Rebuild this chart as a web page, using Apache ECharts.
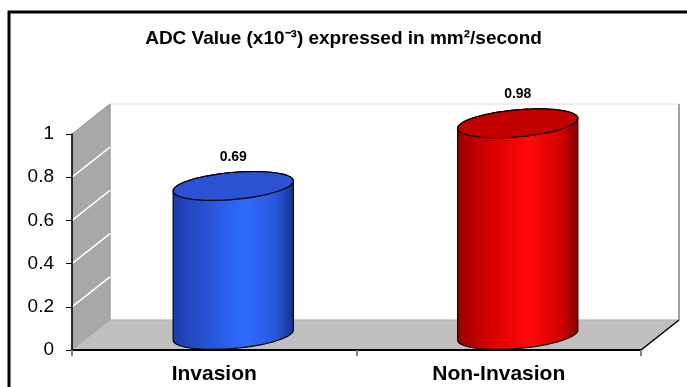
<!DOCTYPE html>
<html>
<head>
<meta charset="utf-8">
<script src="https://cdn.jsdelivr.net/npm/echarts@6/dist/echarts.min.js"></script>
<style>
    html, body { margin: 0; padding: 0; background: #fff; }
    #chart { width: 687px; height: 387px; }
</style>
</head>
<body>
<div id="chart"></div>
<script>
const categories = ['Invasion', 'Non-Invasion'];
const adcValues = [0.69, 0.98];
const yTicks = [0, 0.2, 0.4, 0.6, 0.8, 1];

// 3d look: depth offset of the back wall
const DX = 38;
const DY = -30;

const palette = [
    { stops: ['#1b3caa', '#2854d8', '#2f6cff', '#2757da', '#16308f'], top: '#2a52d2' },
    { stops: ['#9a0000', '#dc0000', '#ff0a0a', '#d40000', '#860000'], top: '#c20000' }
];

const chart = echarts.init(document.getElementById('chart'));

function renderWalls(params, api) {
    const cs = params.coordSys;
    const x0 = cs.x, x1 = cs.x + cs.width;
    const yBase = api.coord([0, 0])[1];
    const yTop = api.coord([0, yTicks[yTicks.length - 1]])[1];
    const children = [];
    // back wall
    children.push({
        type: 'rect',
        shape: { x: x0 + DX, y: yTop + DY, width: cs.width, height: yBase - yTop },
        style: { fill: '#fff', stroke: '#dcdcdc', lineWidth: 1 }
    });
    children.push({
        type: 'line',
        shape: { x1: x1 + DX, y1: yTop + DY, x2: x1 + DX, y2: yBase + DY },
        style: { stroke: '#a0a0a0', lineWidth: 2 }
    });
    // side wall
    children.push({
        type: 'polygon',
        shape: { points: [[x0, yBase], [x0, yTop], [x0 + DX, yTop + DY], [x0 + DX, yBase + DY]] },
        style: { fill: '#a8a8a8', stroke: '#909090', lineWidth: 1 }
    });
    yTicks.slice(1, -1).forEach(v => {
        const y = api.coord([0, v])[1];
        children.push({
            type: 'line',
            shape: { x1: x0, y1: y, x2: x0 + DX, y2: y + DY },
            style: { stroke: '#fff', lineWidth: 1.5 }
        });
    });
    // floor
    children.push({
        type: 'polygon',
        shape: { points: [[x0, yBase], [x0 + DX, yBase + DY], [x1 + DX, yBase + DY], [x1, yBase]] },
        style: { fill: '#c0c0c0', stroke: '#b0b0b0', lineWidth: 1 }
    });
    children.push({
        type: 'line',
        shape: { x1: x1, y1: yBase, x2: x1 + DX, y2: yBase + DY },
        style: { stroke: '#000', lineWidth: 1.5 }
    });
    return { type: 'group', children: children };
}

function renderCylinder(params, api) {
    const i = api.value(0);
    const v = api.value(1);
    const base = api.coord([i, 0]);
    const top = api.coord([i, v]);
    const cx = base[0] + DX / 2;
    const yb = base[1] + DY / 2;
    const yt = top[1] + DY / 2;
    const rx = api.size([1, 0])[0] * 0.212;
    const ry = 13.5;
    const tilt = 5 * Math.PI / 180;
    const pt = (cy, t) => [
        cx + rx * Math.cos(t) * Math.cos(tilt) + ry * Math.sin(t) * Math.sin(tilt),
        cy - rx * Math.cos(t) * Math.sin(tilt) + ry * Math.sin(t) * Math.cos(tilt)
    ];
    const body = [];
    for (let k = 0; k <= 40; k++) body.push(pt(yb, Math.PI * k / 40));
    for (let k = 40; k <= 80; k++) body.push(pt(yt, Math.PI * k / 40));
    const cap = [];
    for (let k = 0; k < 80; k++) cap.push(pt(yt, 2 * Math.PI * k / 80));

    const col = palette[i % palette.length];
    const grad = new echarts.graphic.LinearGradient(0, 0, 1, 0, [
        { offset: 0, color: col.stops[0] },
        { offset: 0.3, color: col.stops[1] },
        { offset: 0.6, color: col.stops[2] },
        { offset: 0.85, color: col.stops[3] },
        { offset: 1, color: col.stops[4] }
    ]);
    return {
        type: 'group',
        children: [
            { type: 'polygon', shape: { points: body }, style: { fill: grad, stroke: '#000', lineWidth: 1.2 } },
            { type: 'polygon', shape: { points: cap }, style: { fill: col.top, stroke: '#000', lineWidth: 1.2 } },
            {
                type: 'text',
                x: cx, y: yt - 29,
                style: {
                    text: v.toFixed(2), fill: '#000', align: 'center', verticalAlign: 'middle',
                    font: 'bold 14px "Liberation Sans", Arial, sans-serif'
                }
            }
        ]
    };
}

const option = {
    animation: false,
    backgroundColor: '#fff',
    title: {
        text: 'ADC Value (x10\u207B\u00B3) expressed in mm\u00B2/second',
        left: 'center',
        top: 24,
        textStyle: { fontFamily: 'Liberation Sans', fontWeight: 'bold', fontSize: 19, color: '#000' }
    },
    graphic: [{
        type: 'rect',
        shape: { x: 9, y: 12, width: 720, height: 420 },
        style: { fill: 'none', stroke: '#000', lineWidth: 3 },
        silent: true
    }],
    grid: { left: 72, right: 46, top: 134, bottom: 37 },
    xAxis: {
        type: 'category',
        data: categories,
        axisLine: { lineStyle: { color: '#000', width: 2 } },
        axisTick: { show: true, length: 6, lineStyle: { color: '#808080', width: 2 } },
        axisLabel: {
            margin: 14, color: '#000', fontSize: 21, fontWeight: 'bold',
            fontFamily: 'Liberation Sans'
        },
        z: 3
    },
    yAxis: {
        type: 'value',
        min: yTicks[0],
        max: yTicks[yTicks.length - 1],
        interval: 0.2,
        axisLine: { show: true, lineStyle: { color: '#000', width: 1.5 } },
        axisTick: { show: true, length: 6, lineStyle: { color: '#000' } },
        axisLabel: { margin: 18, color: '#000', fontSize: 19, fontFamily: 'Liberation Sans' },
        splitLine: { show: false },
        z: 3
    },
    series: [
        {
            type: 'custom',
            z: 1,
            silent: true,
            renderItem: renderWalls,
            data: [[0, 0]]
        },
        {
            type: 'custom',
            z: 5,
            renderItem: renderCylinder,
            data: adcValues.map((v, i) => [i, v])
        }
    ]
};

chart.setOption(option);
</script>
</body>
</html>
